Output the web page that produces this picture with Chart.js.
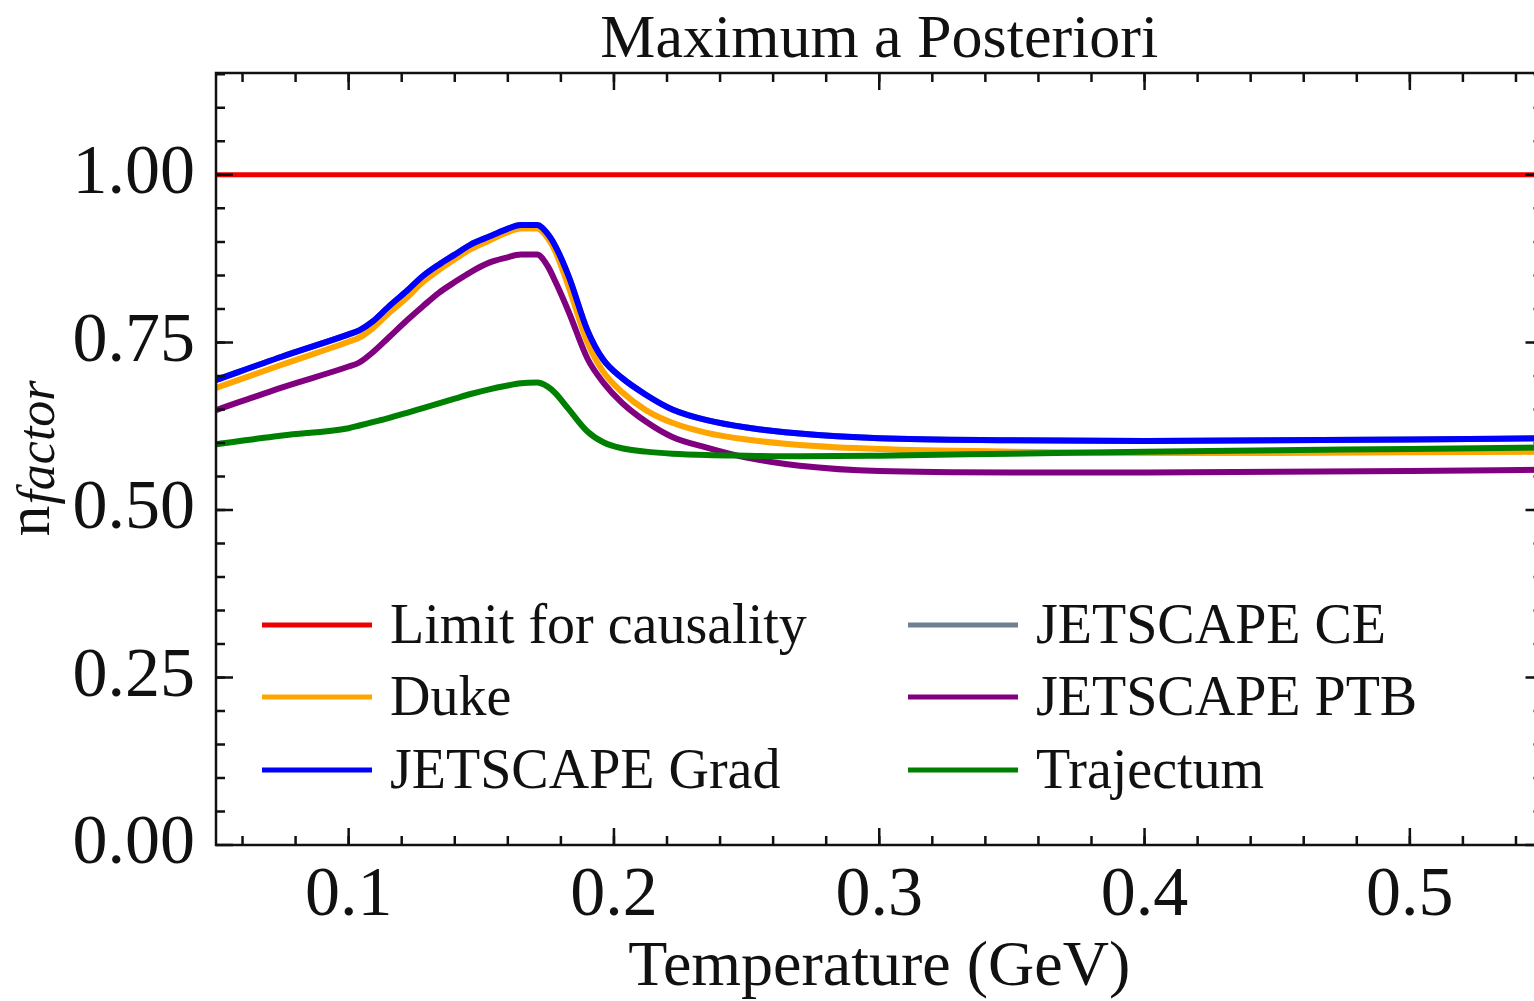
<!DOCTYPE html>
<html>
<head>
<meta charset="utf-8">
<title>Maximum a Posteriori</title>
<script src="https://cdn.jsdelivr.net/npm/chart.js@4.4.0/dist/chart.umd.min.js"></script>
<style>
  html, body { margin: 0; padding: 0; background: #fff; overflow: hidden; }
</style>
</head>
<body>
<canvas id="nfactorChart" width="1546" height="1001"></canvas>
<script>
// 温度 (GeV) と各モデルの n_factor
const temperature = [0.05, 0.075, 0.1, 0.104, 0.109, 0.115, 0.122, 0.128, 0.134, 0.14, 0.146, 0.153, 0.159, 0.165, 0.171, 0.175, 0.178, 0.183, 0.19, 0.196, 0.203, 0.212, 0.222, 0.235, 0.25, 0.27, 0.3, 0.35, 0.4, 0.45, 0.5, 0.55];
const dukeValues      = [0.682, 0.717, 0.751, 0.757, 0.771, 0.793, 0.817, 0.840, 0.858, 0.874, 0.889, 0.902, 0.913, 0.920, 0.920, 0.906, 0.885, 0.832, 0.750, 0.706, 0.676, 0.649, 0.630, 0.615, 0.605, 0.597, 0.591, 0.587, 0.585, 0.585, 0.586, 0.587];
const gradValues      = [0.694, 0.729, 0.762, 0.768, 0.781, 0.803, 0.827, 0.849, 0.866, 0.881, 0.896, 0.908, 0.918, 0.925, 0.925, 0.912, 0.893, 0.848, 0.768, 0.724, 0.697, 0.672, 0.650, 0.634, 0.623, 0.614, 0.607, 0.604, 0.603, 0.604, 0.605, 0.607];
const ceValues        = [0.694, 0.729, 0.762, 0.768, 0.781, 0.803, 0.827, 0.849, 0.866, 0.881, 0.896, 0.908, 0.918, 0.925, 0.925, 0.912, 0.893, 0.848, 0.768, 0.724, 0.697, 0.672, 0.650, 0.634, 0.623, 0.614, 0.607, 0.604, 0.603, 0.604, 0.605, 0.607];
const ptbValues       = [0.649, 0.683, 0.714, 0.720, 0.735, 0.757, 0.783, 0.804, 0.824, 0.840, 0.855, 0.869, 0.876, 0.881, 0.881, 0.864, 0.840, 0.795, 0.726, 0.690, 0.660, 0.632, 0.609, 0.593, 0.578, 0.566, 0.558, 0.556, 0.556, 0.557, 0.558, 0.560];
const trajectumValues = [0.598, 0.611, 0.622, 0.626, 0.631, 0.637, 0.645, 0.652, 0.659, 0.666, 0.673, 0.680, 0.685, 0.689, 0.690, 0.684, 0.674, 0.650, 0.617, 0.601, 0.592, 0.587, 0.584, 0.582, 0.581, 0.580, 0.581, 0.584, 0.587, 0.589, 0.591, 0.593];

// 因果律の上限
const causalityX = [0.05, 0.55];
const causalityY = [1.0, 1.0];

// 目盛り
const xTickValues = [0.1, 0.2, 0.3, 0.4, 0.5];
const yTickValues = [0.0, 0.25, 0.5, 0.75, 1.0];
const xMinorStep = 0.02;
const yMinorStep = 0.05;

const serif = '"Liberation Serif", "DejaVu Serif", serif';

function toPoints(xs, ys) {
  return xs.map((x, i) => ({ x: x, y: ys[i] }));
}

// 枠線と内向きの目盛り線
const frameTicks = {
  id: 'frameTicks',
  afterDatasetsDraw(chart) {
    const { ctx, chartArea: a, scales: { x, y } } = chart;
    ctx.save();
    ctx.strokeStyle = '#111';
    ctx.lineWidth = 2.5;
    ctx.strokeRect(a.left, a.top, a.right - a.left, a.bottom - a.top);

    const drawX = (v, len) => {
      const px = x.getPixelForValue(v);
      ctx.beginPath();
      ctx.moveTo(px, a.bottom); ctx.lineTo(px, a.bottom - len);
      ctx.moveTo(px, a.top); ctx.lineTo(px, a.top + len);
      ctx.stroke();
    };
    const drawY = (v, len) => {
      const py = y.getPixelForValue(v);
      ctx.beginPath();
      ctx.moveTo(a.left, py); ctx.lineTo(a.left + len, py);
      ctx.moveTo(a.right, py); ctx.lineTo(a.right - len, py);
      ctx.stroke();
    };
    for (let v = 0.06; v < x.max; v += xMinorStep) drawX(v, 9);
    xTickValues.forEach(v => drawX(v, 17));
    for (let v = yMinorStep; v < y.max; v += yMinorStep) drawY(v, 9);
    yTickValues.forEach(v => drawY(v, 17));
    ctx.restore();
  }
};

// タイトルと縦軸ラベル (n_factor)
const labelsPlugin = {
  id: 'labelsPlugin',
  afterDraw(chart) {
    const { ctx, chartArea: a } = chart;
    ctx.save();
    ctx.fillStyle = '#111';
    ctx.font = '62px ' + serif;
    ctx.textAlign = 'center';
    ctx.textBaseline = 'alphabetic';
    ctx.fillText('Maximum a Posteriori', (a.left + a.right) / 2, 57);

    const mainFont = '62px ' + serif;
    const subFont = 'italic 52px ' + serif;
    ctx.font = mainFont;
    const wN = ctx.measureText('n').width;
    ctx.font = subFont;
    const wSub = ctx.measureText('factor').width;
    const total = wN + wSub;
    ctx.translate(49, (a.top + a.bottom) / 2);
    ctx.rotate(-Math.PI / 2);
    ctx.textAlign = 'left';
    ctx.font = mainFont;
    ctx.fillText('n', -total / 2, 0);
    ctx.font = subFont;
    ctx.fillText('factor', -total / 2 + wN + 1, 5);
    ctx.restore();
  }
};

// 凡例（グラフ内、2列）
const insideLegend = {
  id: 'insideLegend',
  afterDraw(chart) {
    const { ctx } = chart;
    const colX = [262, 908];
    const rowY = [625, 697, 770];
    ctx.save();
    ctx.font = '56px ' + serif;
    ctx.textBaseline = 'middle';
    ctx.textAlign = 'left';
    chart.data.datasets.forEach((ds, i) => {
      const col = Math.floor(i / 3);
      const row = i % 3;
      const lx = colX[col];
      const ly = rowY[row];
      ctx.strokeStyle = ds.borderColor;
      ctx.lineWidth = 5;
      ctx.beginPath();
      ctx.moveTo(lx, ly);
      ctx.lineTo(lx + 110, ly);
      ctx.stroke();
      ctx.fillStyle = '#111';
      ctx.fillText(ds.label, lx + 128, ly + 3);
    });
    ctx.restore();
  }
};

const lineStyle = {
  pointRadius: 0,
  borderWidth: 6,
  fill: false,
  cubicInterpolationMode: 'monotone'
};

const ctx = document.getElementById('nfactorChart').getContext('2d');
const nfactorChart = new Chart(ctx, {
  type: 'line',
  data: {
    datasets: [
      Object.assign({}, lineStyle, { label: 'Limit for causality', data: toPoints(causalityX, causalityY), borderColor: '#ee0000', borderWidth: 5, order: 0 }),
      Object.assign({}, lineStyle, { label: 'Duke', data: toPoints(temperature, dukeValues), borderColor: '#ffa500', order: 4 }),
      Object.assign({}, lineStyle, { label: 'JETSCAPE Grad', data: toPoints(temperature, gradValues), borderColor: '#0000ff', order: 3 }),
      Object.assign({}, lineStyle, { label: 'JETSCAPE CE', data: toPoints(temperature, ceValues), borderColor: '#708090', order: 5 }),
      Object.assign({}, lineStyle, { label: 'JETSCAPE PTB', data: toPoints(temperature, ptbValues), borderColor: '#800080', order: 2 }),
      Object.assign({}, lineStyle, { label: 'Trajectum', data: toPoints(temperature, trajectumValues), borderColor: '#008000', order: 1 })
    ]
  },
  options: {
    responsive: false,
    devicePixelRatio: 1,
    animation: false,
    layout: { padding: { top: 73, right: 3.5, left: 0, bottom: 0 } },
    plugins: {
      legend: { display: false },
      tooltip: { enabled: false },
      title: { display: false }
    },
    scales: {
      x: {
        type: 'linear',
        min: 0.05,
        max: 0.55,
        grid: { display: false },
        border: { display: false },
        afterBuildTicks: scale => { scale.ticks = xTickValues.map(v => ({ value: v })); },
        afterFit: scale => { scale.height = 156; },
        ticks: {
          padding: 2,
          color: '#111',
          font: { family: serif, size: 70 },
          maxRotation: 0,
          callback: v => v.toFixed(1)
        },
        title: {
          display: true,
          text: 'Temperature (GeV)',
          color: '#111',
          font: { family: serif, size: 64, lineHeight: 1 },
          padding: { top: 0, bottom: 1 }
        }
      },
      y: {
        min: 0,
        max: 1.152,
        grid: { display: false },
        border: { display: false },
        afterBuildTicks: scale => { scale.ticks = yTickValues.map(v => ({ value: v })); },
        afterFit: scale => { scale.width = 216; },
        ticks: {
          padding: 13,
          color: '#111',
          font: { family: serif, size: 70 },
          callback: v => v.toFixed(2)
        }
      }
    }
  },
  plugins: [frameTicks, labelsPlugin, insideLegend]
});
</script>
</body>
</html>
